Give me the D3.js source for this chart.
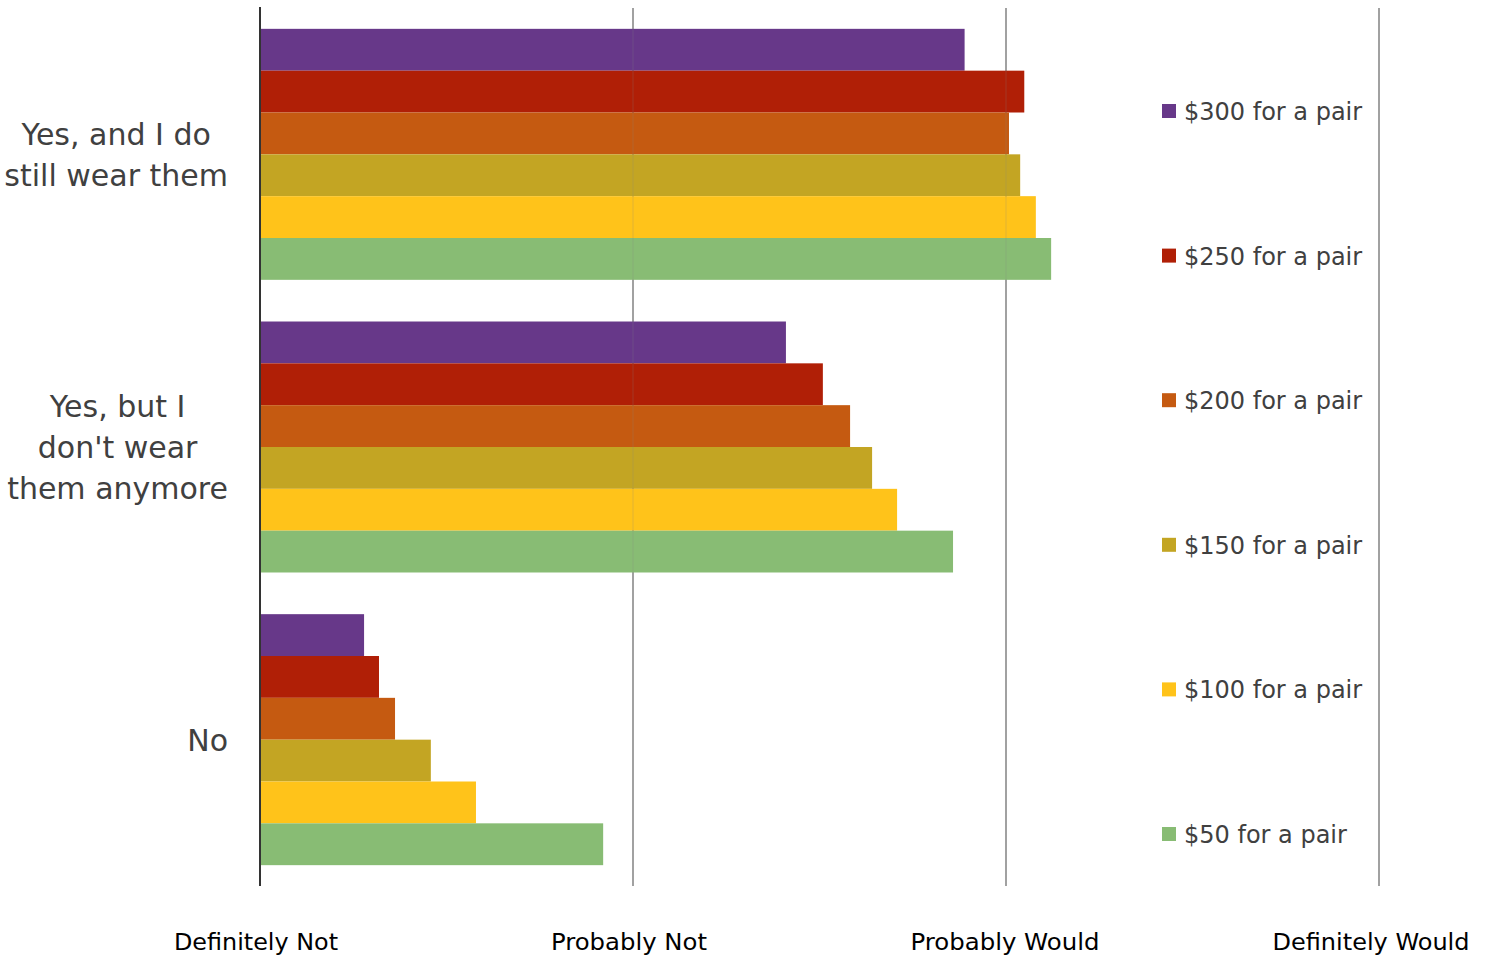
<!DOCTYPE html>
<html><head><meta charset="utf-8">
<script src="https://cdn.jsdelivr.net/npm/d3@7"></script>
<style>body{margin:0;background:#fff}</style>
</head><body><svg id="c" width="1489" height="958"></svg>
<script>
const categories = ["Yes, and I do still wear them", "Yes, but I don't wear them anymore", "No"];
const categoryLines = [["Yes, and I do","still wear them"],["Yes, but I","don't wear","them anymore"],["No"]];
const seriesNames = ["$300 for a pair","$250 for a pair","$200 for a pair","$150 for a pair","$100 for a pair","$50 for a pair"];
const seriesColors = ["#673889","#B01F06","#C55A11","#C3A523","#FFC31A","#88BC74"];
const s300 = [2.889, 2.410, 1.279];
const s250 = [3.049, 2.509, 1.319];
const s200 = [3.008, 2.582, 1.362];
const s150 = [3.038, 2.641, 1.458];
const s100 = [3.080, 2.708, 1.579];
const s50  = [3.121, 2.858, 1.920];
const seriesValues = [s300, s250, s200, s150, s100, s50];
const tickValues = [1,2,3,4];
const tickLabels = ["Definitely Not","Probably Not","Probably Would","Definitely Would"];

const svg = d3.select("#c");
const font = "DejaVu Sans, Verdana, sans-serif";
const x = d3.scaleLinear().domain([1,4]).range([260,1379]);
const y0 = d3.scaleBand().domain(categories).range([8,886]).paddingInner(0.1424).paddingOuter(0.0712);
const y1 = d3.scaleBand().domain(seriesNames).range([0,y0.bandwidth()]);

// gridlines
svg.append("g").selectAll("line").data(tickValues.slice(1)).join("line")
  .attr("x1",d=>x(d)).attr("x2",d=>x(d)).attr("y1",8).attr("y2",886)
  .attr("stroke","#A6A6A6").attr("stroke-width",2);

// bars
const g = svg.append("g");
categories.forEach((c,ci)=>{
  g.append("g").selectAll("rect").data(seriesNames).join("rect")
   .attr("x",x(1)).attr("y",(s)=>y0(c)+y1(s))
   .attr("width",(s,si)=>x(seriesValues[si][ci])-x(1))
   .attr("height",y1.bandwidth())
   .attr("fill",(s,si)=>seriesColors[si]);
});

// faint gridlines showing through bars
svg.append("g").selectAll("line").data(tickValues.slice(1)).join("line")
  .attr("x1",d=>x(d)).attr("x2",d=>x(d)).attr("y1",8).attr("y2",886)
  .attr("stroke","#808080").attr("stroke-width",2).attr("stroke-opacity",0.12);

// axis line
svg.append("line").attr("x1",260).attr("x2",260).attr("y1",7).attr("y2",886)
  .attr("stroke","#333").attr("stroke-width",2);

// x tick labels
svg.append("g").selectAll("text").data(tickValues).join("text")
  .attr("x",(d,i)=>x(d)-[4,4,1,8][i]).attr("y",950).attr("text-anchor","middle")
  .attr("font-family",font).attr("font-size",22.5).attr("fill","#000")
  .attr("textLength",(d,i)=>[164,156,189,197][i]).attr("lengthAdjust","spacingAndGlyphs")
  .text((d,i)=>tickLabels[i]);

// category labels: block right-aligned at 228, lines centered within block
categories.forEach((c,ci)=>{
  const lines = categoryLines[ci];
  const cy = y0(c)+y0.bandwidth()/2;
  const lh = 41;
  const t = svg.append("text").attr("text-anchor","middle").attr("font-family",font)
    .attr("font-size",30).attr("fill","#404040");
  const spans = lines.map((l,li)=>t.append("tspan").attr("y",cy + (li-(lines.length-1)/2)*lh + 11).text(l));
  const w = d3.max(spans, s=>s.node().getComputedTextLength());
  spans.forEach(s=>s.attr("x",228 - w/2));
});

// legend
const lg = svg.append("g");
seriesNames.forEach((s,si)=>{
  const ly = 111 + si*144.6;
  lg.append("rect").attr("x",1162).attr("y",ly-7).attr("width",14).attr("height",14).attr("fill",seriesColors[si]);
  lg.append("text").attr("x",1184).attr("y",ly+9).attr("font-family",font).attr("font-size",24)
    .attr("fill","#404040").text(s);
});
</script></body></html>
